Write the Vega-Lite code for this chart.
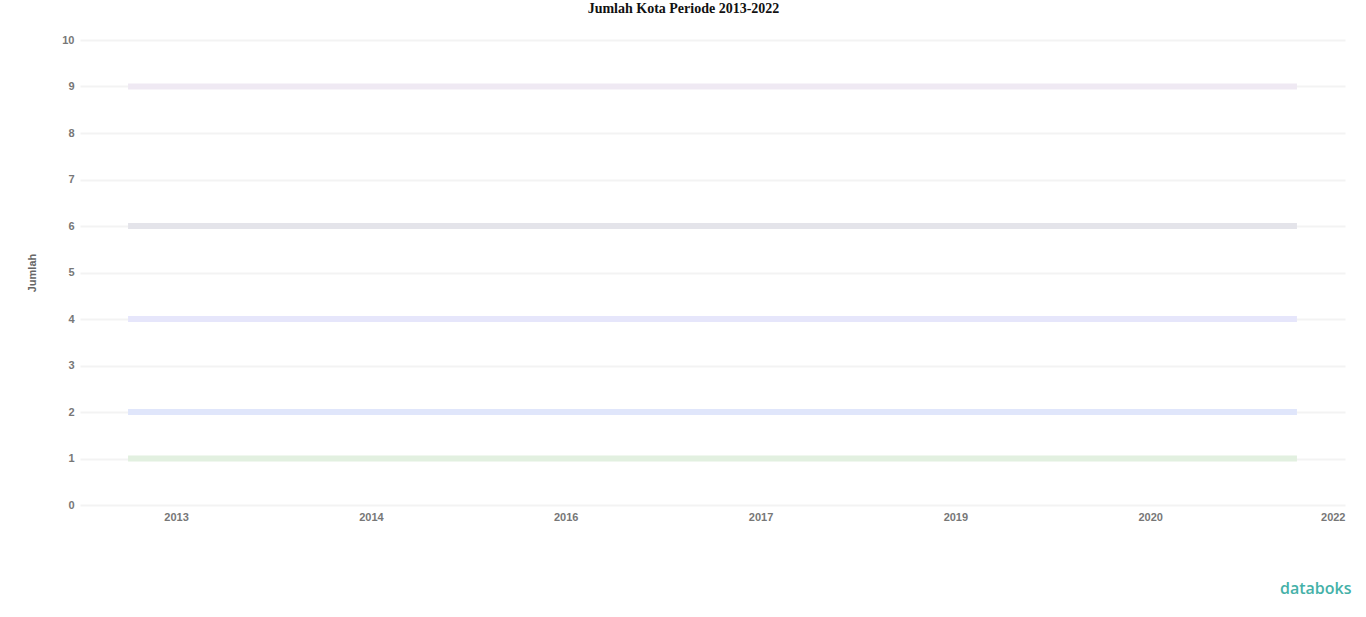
{
  "$schema": "https://vega.github.io/schema/vega-lite/v6.json",
  "autosize": "none",
  "width": 1265,
  "height": 465,
  "padding": {"left": 80, "top": 40, "right": 21, "bottom": 112},
  "background": "white",
  "title": {
    "text": "Jumlah Kota Periode 2013-2022",
    "font": "Liberation Serif",
    "fontSize": 14,
    "fontWeight": "bold",
    "color": "#111111",
    "anchor": "middle",
    "dx": -29,
    "offset": 18
  },
  "data": {
    "values": [
      {"tahun": 2013, "seri": "Seri 1", "jumlah": 9},
      {"tahun": 2014, "seri": "Seri 1", "jumlah": 9},
      {"tahun": 2015, "seri": "Seri 1", "jumlah": 9},
      {"tahun": 2016, "seri": "Seri 1", "jumlah": 9},
      {"tahun": 2017, "seri": "Seri 1", "jumlah": 9},
      {"tahun": 2018, "seri": "Seri 1", "jumlah": 9},
      {"tahun": 2019, "seri": "Seri 1", "jumlah": 9},
      {"tahun": 2020, "seri": "Seri 1", "jumlah": 9},
      {"tahun": 2021, "seri": "Seri 1", "jumlah": 9},
      {"tahun": 2022, "seri": "Seri 1", "jumlah": 9},
      {"tahun": 2013, "seri": "Seri 2", "jumlah": 6},
      {"tahun": 2014, "seri": "Seri 2", "jumlah": 6},
      {"tahun": 2015, "seri": "Seri 2", "jumlah": 6},
      {"tahun": 2016, "seri": "Seri 2", "jumlah": 6},
      {"tahun": 2017, "seri": "Seri 2", "jumlah": 6},
      {"tahun": 2018, "seri": "Seri 2", "jumlah": 6},
      {"tahun": 2019, "seri": "Seri 2", "jumlah": 6},
      {"tahun": 2020, "seri": "Seri 2", "jumlah": 6},
      {"tahun": 2021, "seri": "Seri 2", "jumlah": 6},
      {"tahun": 2022, "seri": "Seri 2", "jumlah": 6},
      {"tahun": 2013, "seri": "Seri 3", "jumlah": 4},
      {"tahun": 2014, "seri": "Seri 3", "jumlah": 4},
      {"tahun": 2015, "seri": "Seri 3", "jumlah": 4},
      {"tahun": 2016, "seri": "Seri 3", "jumlah": 4},
      {"tahun": 2017, "seri": "Seri 3", "jumlah": 4},
      {"tahun": 2018, "seri": "Seri 3", "jumlah": 4},
      {"tahun": 2019, "seri": "Seri 3", "jumlah": 4},
      {"tahun": 2020, "seri": "Seri 3", "jumlah": 4},
      {"tahun": 2021, "seri": "Seri 3", "jumlah": 4},
      {"tahun": 2022, "seri": "Seri 3", "jumlah": 4},
      {"tahun": 2013, "seri": "Seri 4", "jumlah": 2},
      {"tahun": 2014, "seri": "Seri 4", "jumlah": 2},
      {"tahun": 2015, "seri": "Seri 4", "jumlah": 2},
      {"tahun": 2016, "seri": "Seri 4", "jumlah": 2},
      {"tahun": 2017, "seri": "Seri 4", "jumlah": 2},
      {"tahun": 2018, "seri": "Seri 4", "jumlah": 2},
      {"tahun": 2019, "seri": "Seri 4", "jumlah": 2},
      {"tahun": 2020, "seri": "Seri 4", "jumlah": 2},
      {"tahun": 2021, "seri": "Seri 4", "jumlah": 2},
      {"tahun": 2022, "seri": "Seri 4", "jumlah": 2},
      {"tahun": 2013, "seri": "Seri 5", "jumlah": 1},
      {"tahun": 2014, "seri": "Seri 5", "jumlah": 1},
      {"tahun": 2015, "seri": "Seri 5", "jumlah": 1},
      {"tahun": 2016, "seri": "Seri 5", "jumlah": 1},
      {"tahun": 2017, "seri": "Seri 5", "jumlah": 1},
      {"tahun": 2018, "seri": "Seri 5", "jumlah": 1},
      {"tahun": 2019, "seri": "Seri 5", "jumlah": 1},
      {"tahun": 2020, "seri": "Seri 5", "jumlah": 1},
      {"tahun": 2021, "seri": "Seri 5", "jumlah": 1},
      {"tahun": 2022, "seri": "Seri 5", "jumlah": 1}
    ]
  },
  "mark": {"type": "line", "strokeWidth": 6, "strokeCap": "butt", "clip": false},
  "encoding": {
    "x": {
      "field": "tahun",
      "type": "quantitative",
      "scale": {"domain": [2012.63, 2022.37], "nice": false, "zero": false},
      "axis": {
        "values": [2013.37, 2014.87, 2016.37, 2017.87, 2019.37, 2020.87, 2022.37],
        "labelExpr": "floor(datum.value)",
        "grid": false,
        "domain": false,
        "ticks": false,
        "labelPadding": 6,
        "labelFont": "Liberation Sans",
        "labelFontSize": 11,
        "labelFontWeight": "bold",
        "labelColor": "#777777",
        "labelOverlap": false,
        "title": "databoks",
        "titleFont": "Open Sans",
        "titleFontSize": 16,
        "titleFontWeight": 600,
        "titleColor": "#45b1a8",
        "titleX": 1271,
        "titleY": 83,
        "titleAlign": "right",
        "titleBaseline": "middle"
      }
    },
    "y": {
      "field": "jumlah",
      "type": "quantitative",
      "scale": {"domain": [0, 10], "nice": false},
      "axis": {
        "values": [0, 1, 2, 3, 4, 5, 6, 7, 8, 9, 10],
        "grid": true,
        "gridColor": "#f3f3f3",
        "gridWidth": 2,
        "domain": false,
        "ticks": false,
        "labelPadding": 6,
        "labelFont": "Liberation Sans",
        "labelFontSize": 11,
        "labelFontWeight": "bold",
        "labelColor": "#777777",
        "title": "Jumlah",
        "titleFont": "Liberation Sans",
        "titleFontSize": 11,
        "titleFontWeight": "bold",
        "titleColor": "#666666",
        "titlePadding": 24
      }
    },
    "color": {
      "field": "seri",
      "type": "nominal",
      "legend": null,
      "scale": {
        "domain": ["Seri 1", "Seri 2", "Seri 3", "Seri 4", "Seri 5"],
        "range": ["#efe9f3", "#e4e4ea", "#e6e6fb", "#e0e6fb", "#e2f0e0"]
      }
    }
  },
  "config": {"view": {"stroke": null}}
}
